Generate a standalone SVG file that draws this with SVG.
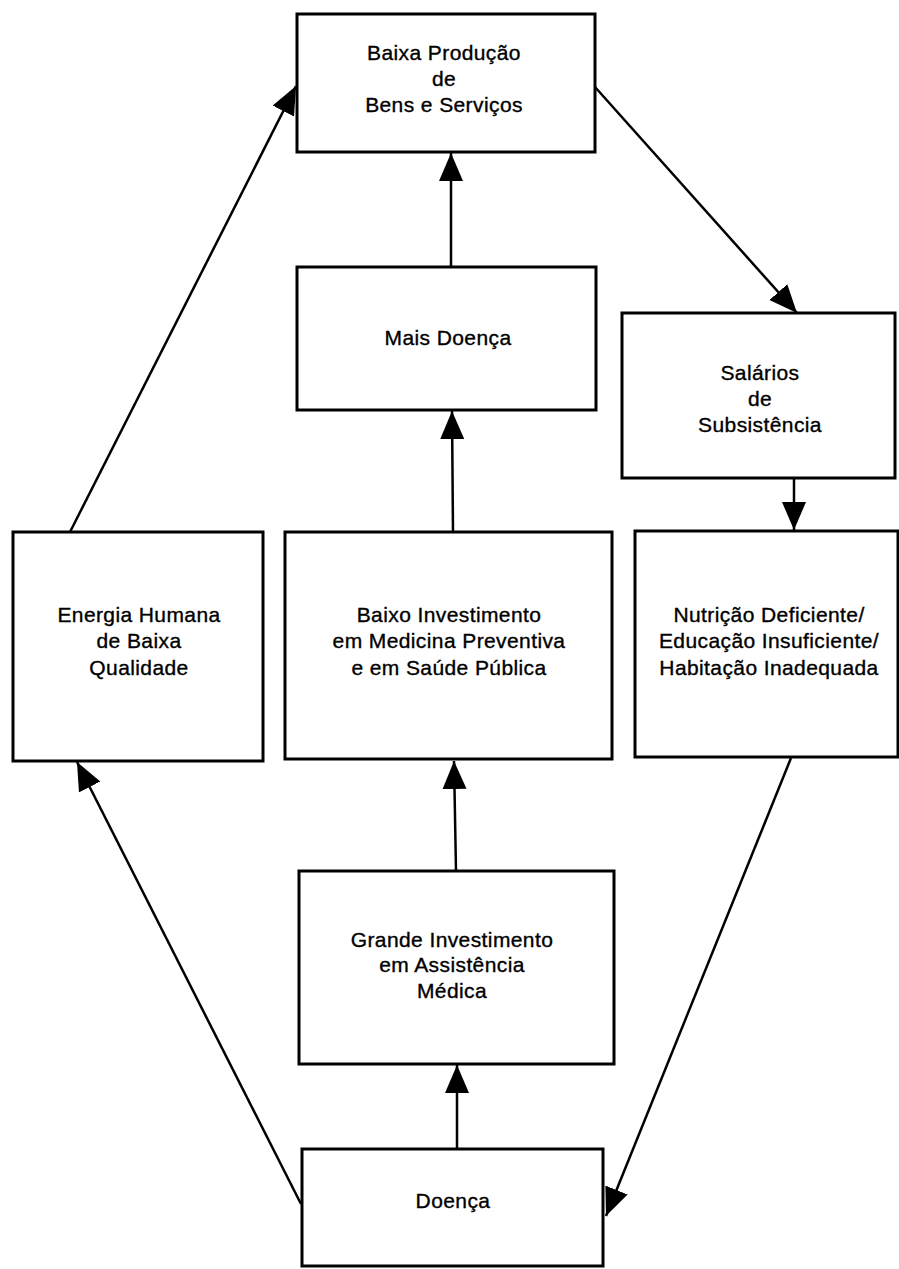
<svg xmlns="http://www.w3.org/2000/svg" width="899" height="1269" viewBox="0 0 899 1269">
  <style>
    .box { fill: #ffffff; stroke: #000000; stroke-width: 3; }
    .lbl { font-family: "Liberation Sans", Arial, sans-serif; font-size: 21px; letter-spacing: 0.4px; fill: #000000; stroke: #000000; stroke-width: 0.35; text-anchor: middle; }
    .edge { fill: none; stroke: #000000; stroke-width: 2.5; marker-end: url(#head); }
  </style>
  <defs>
    <marker id="head" markerUnits="userSpaceOnUse" markerWidth="30" markerHeight="26" refX="28" refY="12" orient="auto">
      <path d="M0,0 L28,12 L0,24 Z" fill="#000000"/>
    </marker>
  </defs>
  <rect width="899" height="1269" fill="#ffffff"/>

  <!-- connectors -->
  <g id="connectors">
    <line class="edge" x1="70" y1="532" x2="296" y2="86"/>
    <line class="edge" x1="595" y1="87" x2="797" y2="313"/>
    <line class="edge" x1="451" y1="267" x2="451" y2="153"/>
    <line class="edge" x1="453" y1="532" x2="452" y2="411"/>
    <line class="edge" x1="794" y1="478" x2="794" y2="530"/>
    <line class="edge" x1="456" y1="871" x2="454" y2="761"/>
    <line class="edge" x1="457" y1="1149" x2="457" y2="1065"/>
    <line class="edge" x1="301" y1="1204" x2="77" y2="762"/>
    <line class="edge" x1="791" y1="758" x2="606" y2="1216"/>
  </g>

  <!-- nodes -->
  <g id="baixa-producao">
    <rect class="box" x="297" y="14" width="298" height="138"/>
    <text class="lbl" x="444" y="60">Baixa Produção</text>
    <text class="lbl" x="444" y="86">de</text>
    <text class="lbl" x="444" y="112">Bens e Serviços</text>
  </g>

  <g id="mais-doenca">
    <rect class="box" x="297" y="267" width="299" height="143"/>
    <text class="lbl" x="448" y="345">Mais Doença</text>
  </g>

  <g id="salarios">
    <rect class="box" x="622" y="313" width="273" height="165"/>
    <text class="lbl" x="760" y="380">Salários</text>
    <text class="lbl" x="760" y="406">de</text>
    <text class="lbl" x="760" y="432">Subsistência</text>
  </g>

  <g id="energia-humana">
    <rect class="box" x="13" y="532" width="250" height="229"/>
    <text class="lbl" x="139" y="622">Energia Humana</text>
    <text class="lbl" x="139" y="648">de Baixa</text>
    <text class="lbl" x="139" y="675">Qualidade</text>
  </g>

  <g id="baixo-investimento">
    <rect class="box" x="285" y="532" width="327" height="227"/>
    <text class="lbl" x="449" y="622">Baixo Investimento</text>
    <text class="lbl" x="449" y="648">em Medicina Preventiva</text>
    <text class="lbl" x="449" y="675">e em Saúde Pública</text>
  </g>

  <g id="nutricao">
    <rect class="box" x="635" y="531" width="263" height="226"/>
    <text class="lbl" x="769" y="622">Nutrição Deficiente/</text>
    <text class="lbl" x="769" y="648">Educação Insuficiente/</text>
    <text class="lbl" x="769" y="675">Habitação Inadequada</text>
  </g>

  <g id="grande-investimento">
    <rect class="box" x="299" y="871" width="315" height="193"/>
    <text class="lbl" x="452" y="947">Grande Investimento</text>
    <text class="lbl" x="452" y="972">em Assistência</text>
    <text class="lbl" x="452" y="998">Médica</text>
  </g>

  <g id="doenca">
    <rect class="box" x="302" y="1149" width="301" height="117"/>
    <text class="lbl" x="453" y="1208">Doença</text>
  </g>
</svg>
